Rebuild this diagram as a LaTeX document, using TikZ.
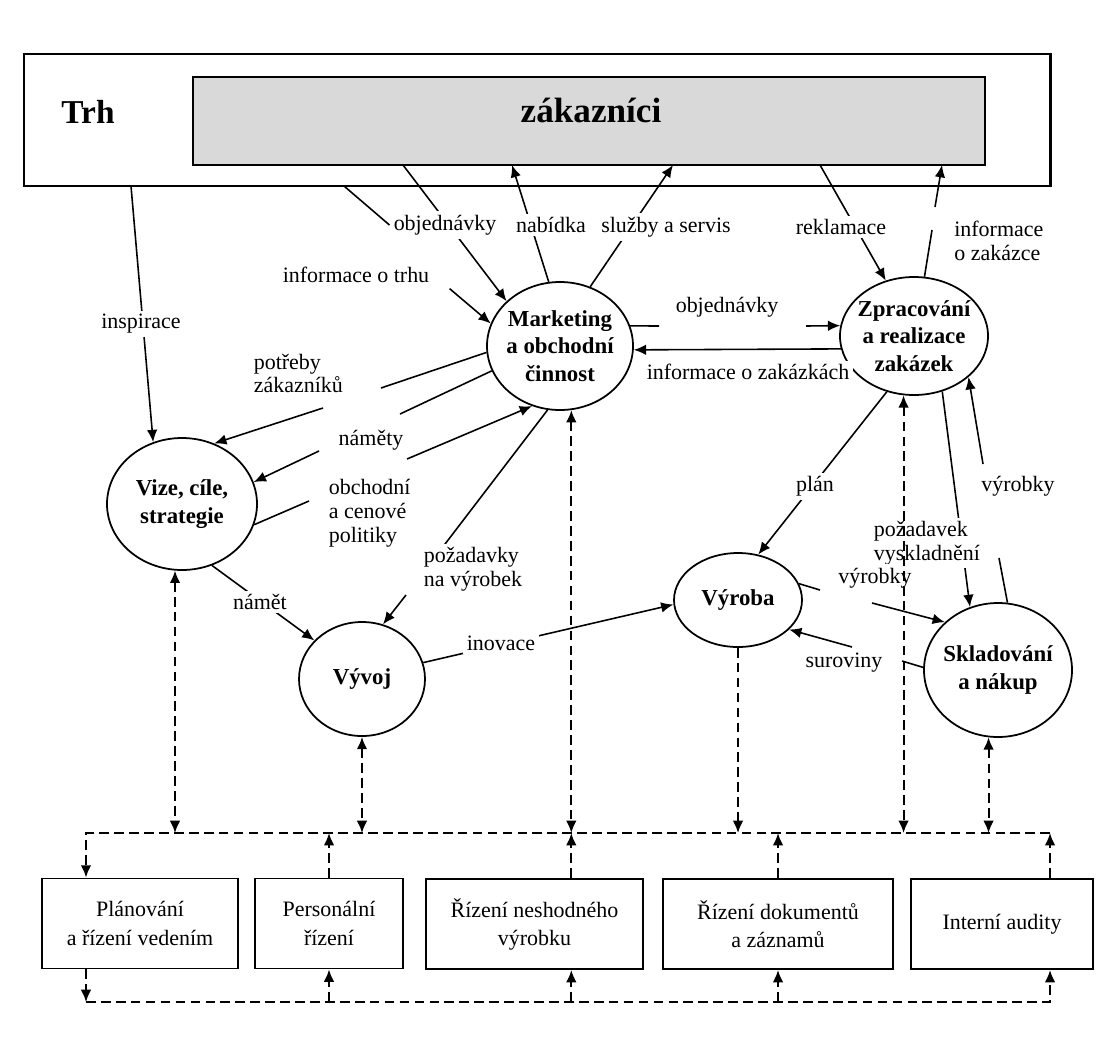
\documentclass[tikz,border=0pt]{standalone}
\usepackage{fontspec}
\setmainfont{Liberation Serif}
\usetikzlibrary{shapes.geometric,arrows.meta}

\begin{document}
\begin{tikzpicture}[x=2cm,y=-2cm,line width=0.9pt,
		>={Latex[length=7pt,width=6pt]},
		proc/.style={draw,ellipse,line width=1pt,inner sep=-3pt,align=center,
			font=\fontsize{13}{15.5}\selectfont\bfseries},
		dept/.style={draw,rectangle,line width=1.1pt,align=center,minimum height=1.8cm,
			inner sep=1pt,font=\fontsize{12.5}{16}\selectfont},
		lbl/.style={fill=white,inner sep=2pt,align=left,font=\fontsize{12.5}{13.5}\selectfont},
		link/.style={dash pattern=on 5.5pt off 3pt,line width=1.1pt}]
		\useasboundingbox (0,0) rectangle (10.96,10.39);
		%
		\node (trh)   at (5.37,1.20)  [draw,line width=1.7pt,minimum width=20.52cm,minimum height=2.64cm] {};
		\node (zak)   at (5.89,1.21)  [draw,line width=1.2pt,fill=gray!30,minimum width=15.84cm,minimum height=1.76cm] {};
		\node (trhtxt)   at (0.88,1.12)  [font=\fontsize{19}{22}\selectfont\bfseries] {Trh};
		\node (zaktxt)   at (5.91,1.10)  [font=\fontsize{20}{24}\selectfont\bfseries] {zákazníci};
		%
		\node (mkt)   at (5.60,3.46)  [proc,minimum width=2.92cm,minimum height=2.56cm] {Marketing\\a obchodní\\činnost};
		\node (zpr)   at (9.14,3.36)  [proc,minimum width=2.96cm,minimum height=2.36cm] {Zpracování\\a realizace\\zakázek};
		\node (vize)   at (1.82,5.04)  [proc,minimum width=3.00cm,minimum height=2.64cm] {Vize, cíle,\\strategie};
		\node (vyv)   at (3.62,6.79)  [proc,minimum width=2.52cm,minimum height=2.28cm] {Vývoj};
		\node (vyr)   at (7.38,6.00)  [proc,minimum width=2.56cm,minimum height=1.88cm] {Výroba};
		\node (skl)   at (9.98,6.70)  [proc,minimum width=2.96cm,minimum height=2.68cm] {Skladování\\a nákup};
		%
		\node (plan)   at (1.40,9.235)  [dept,minimum width=3.92cm] {Plánování\\a řízení vedením};
		\node (pers)   at (3.29,9.235)  [dept,minimum width=2.96cm] {Personální\\řízení};
		\node (nesh)   at (5.345,9.24)  [dept,minimum width=4.34cm] {Řízení neshodného\\výrobku};
		\node (dok)   at (7.78,9.24)  [dept,minimum width=4.60cm] {Řízení dokumentů\\a záznamů};
		\node (aud)   at (10.02,9.24)  [dept,minimum width=3.64cm] {Interní audity};
		%
		% ends on the market boxes
		\coordinate (a1) at (1.31,1.86);
		\coordinate (a2) at (3.44,1.86);
		\coordinate (b1) at (4.03,1.65);
		\coordinate (b2) at (5.12,1.65);
		\coordinate (b3) at (6.73,1.65);
		\coordinate (b4) at (8.20,1.65);
		\coordinate (b5) at (9.42,1.65);
		% breaks in the lines
		\coordinate (g7a) at (9.32,2.30);  \coordinate (g7b) at (9.35,2.07);
		\coordinate (g8a) at (6.59,3.26);  \coordinate (g8b) at (8.06,3.26);
		\coordinate (g10a) at (3.81,3.88); \coordinate (g10b) at (3.23,4.08);
		\coordinate (g11a) at (4.00,4.14); \coordinate (g11b) at (3.19,4.51);
		\coordinate (g12a) at (3.09,5.01); \coordinate (g12b) at (4.07,4.59);
		\coordinate (g13a) at (4.42,5.48); \coordinate (g13b) at (4.06,5.95);
		\coordinate (g18a) at (9.99,5.58); \coordinate (g18b) at (9.83,4.64);
		\coordinate (g19a) at (8.20,5.90); \coordinate (g19b) at (8.72,6.03);
		\coordinate (g20a) at (9.02,6.61); \coordinate (g20b) at (8.52,6.47);
		% buses
		\coordinate (tl) at (0.86,8.33);
		\coordinate (tr) at (10.50,8.33);
		\coordinate (bl) at (0.86,10.02);
		\coordinate (br) at (10.50,10.02);
		%
		\draw[->] (a1) -- (vize.115);
		\draw[->] (b1) -- (mkt.140);
		\draw[->] (mkt.100) -- (b2);
		\draw[->] (mkt.63) -- (b3);
		\draw[->] (b4) -- (zpr.117);
		\draw (zpr.80) -- (g7a);
		\draw[->] (g7b) -- (b5);
		% 
		\draw (mkt.16) -- (g8a);
		\draw[->] (g8b) -- (zpr.172);
		\draw[->] (zpr.190) -- (mkt.-3);
		\draw (mkt.185) -- (g10a);
		\draw[->] (g10b) -- (vize.62);
		\draw (mkt.200) -- (g11a);
		\draw[->] (g11b) -- (vize.17);
		\draw (vize.-16) -- (g12a);
		\draw[->] (g12b) -- (mkt.245);
		\draw (mkt.259) -- (g13a);
		\draw[->] (g13b) -- (vyv.69);
		\draw[->] (vize.-64) -- (vyv.141);
		\draw[->] (vyv.15) -- (vyr.184);
		\draw[->] (zpr.244) -- (vyr.66);
		\draw[->] (zpr.-63) -- (skl.114);
		\draw (skl.82) -- (g18a);
		\draw[->] (g18b) -- (zpr.-37);
		\draw (vyr.15) -- (g19a);
		\draw[->] (g19b) -- (skl.138);
		\draw (skl.178) -- (g20a);
		\draw[->] (g20b) -- (vyr.-30);
		%
		\node (inspirace)   at (1.41,3.24)  [lbl] {inspirace};
		\node (objed)   at (4.45,2.25)  [lbl] {objednávky};
		\node (nabidka)   at (5.51,2.25)  [lbl] {nabídka};
		\node (sluzby)   at (6.66,2.27)  [lbl] {služby a servis};
		\node (reklamace)   at (8.41,2.27)  [lbl] {reklamace};
		\node (infozak)   at (9.50,2.41)  [lbl,anchor=west] {informace\\o zakázce};
		\node (infotrh)   at (3.56,2.75)  [lbl] {informace o trhu};
		\node (objed2)   at (7.27,3.07)  [lbl] {objednávky};
		\node (infozakaz)   at (7.48,3.72)  [lbl] {informace o zakázkách};
		\node (potreby)   at (2.495,3.735)  [lbl,anchor=west] {potřeby\\zákazníků};
		\node (namety)   at (3.71,4.40)  [lbl] {náměty};
		\node (politiky)   at (3.245,5.13)  [lbl,anchor=west] {obchodní\\a cenové\\politiky};
		\node (pozadavky)   at (4.195,5.69)  [lbl,anchor=west] {požadavky\\na výrobek};
		\node (namet)   at (2.60,6.02)  [lbl] {námět};
		\node (inovace)   at (5.01,6.43)  [lbl] {inovace};
		\node (plan2)   at (8.15,4.86)  [lbl] {plán};
		\node (vyskl)   at (8.695,5.43)  [lbl,anchor=west] {požadavek\\vyskladnění};
		\node (vyrobky1)   at (10.18,4.86)  [lbl] {výrobky};
		\node (vyrobky2)   at (8.75,5.78)  [lbl] {výrobky};
		\node (suroviny)   at (8.44,6.63)  [lbl] {suroviny};
		%
		\draw (a2) -- (objed.west);
		\draw[->,shorten <=12pt] (infotrh.east) -- (mkt.162);
		%
		% dashed links to the bus
		\draw[link,<->] (vize.-96) -- (vize.-96 |- tl);
		\draw[link,<->] (vyv.south) -- (vyv.south |- tl);
		\draw[link,<->] (mkt.-80) -- (mkt.-80 |- tl);
		\draw[link,->] (vyr.south) -- (vyr.south |- tl);
		\draw[link,<->] (zpr.-100) -- (zpr.-100 |- tl);
		\draw[link,<->] (skl.-98) -- (skl.-98 |- tl);
		% top bus
		\draw[link,->] (tr) -- (tl) -- (tl |- plan.north);
		\draw[link,->] (pers.north) -- (pers.north |- tl);
		\draw[link,->] (mkt.-80 |- nesh.north) -- (mkt.-80 |- tl);
		\draw[link,->] (dok.north) -- (dok.north |- tl);
		\draw[link,->] (tr |- aud.north) -- (tr);
		% bottom bus
		\draw[link,->] (bl |- plan.south) -- (bl);
		\draw[link,->] (bl) -- (br) -- (br |- aud.south);
		\draw[link,->] (bl -| pers.south) -- (pers.south);
		\draw[link,->] (bl -| mkt.-80) -- (mkt.-80 |- nesh.south);
		\draw[link,->] (bl -| dok.south) -- (dok.south);
	\end{tikzpicture}
\end{document}
